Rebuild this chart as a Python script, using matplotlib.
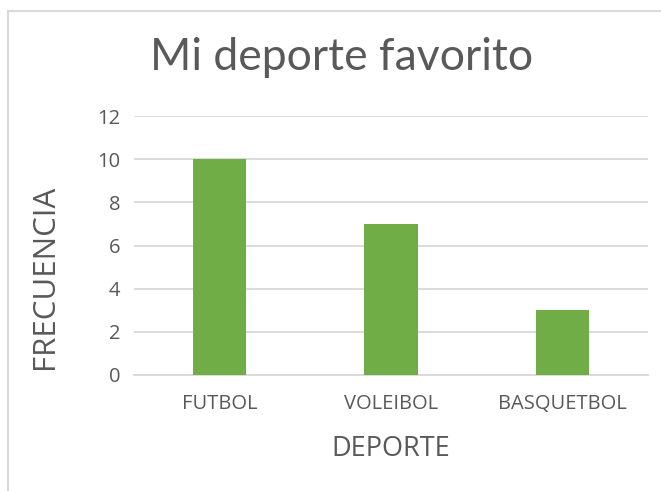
import matplotlib.pyplot as plt
from matplotlib.patches import Rectangle

deportes = ['FUTBOL', 'VOLEIBOL', 'BASQUETBOL']
frecuencia = [10, 7, 3]
y_ticks = [0, 2, 4, 6, 8, 10, 12]

W, H = 661, 491
gray = '#595959'

fig = plt.figure(figsize=(W / 100, H / 100), dpi=100)
fig.patch.set_facecolor('white')

# chart border, cut off at right and bottom like the screenshot
fig.patches.append(Rectangle((8 / W, -0.1), 1.2, 1 - 11 / H + 0.1,
                             transform=fig.transFigure, fill=False,
                             edgecolor='#D9D9D9', linewidth=1.5))

# plot area in pixels: x 134..648, y 116..375
ax = fig.add_axes([134 / W, 1 - 375 / H, (648 - 134) / W, (375 - 116) / H])
x = range(len(deportes))
ax.bar(x, frecuencia, width=0.31, color='#70AD47', zorder=3)
ax.set_xlim(-0.5, len(deportes) - 0.5)
ax.set_ylim(0, 12)
ax.set_yticks(y_ticks)
ax.set_xticks(list(x))
ax.set_xticklabels(deportes)

ax.grid(axis='y', color='#D9D9D9', linewidth=1.3, zorder=0)
for s in ['top', 'right', 'left']:
    ax.spines[s].set_visible(False)
ax.spines['bottom'].set_color('#D9D9D9')
ax.spines['bottom'].set_linewidth(1.3)
ax.tick_params(axis='both', length=0, labelsize=14.5, colors=gray)
ax.tick_params(axis='x', pad=14)
ax.tick_params(axis='y', pad=10)
for lbl in ax.get_xticklabels() + ax.get_yticklabels():
    lbl.set_family('Open Sans')

ax.set_xlabel('DEPORTE', fontsize=19.5, color=gray, family='Open Sans', labelpad=15)
ax.set_ylabel('FRECUENCIA', fontsize=22.5, color=gray, family='Open Sans')
ax.yaxis.set_label_coords(-0.144, 0.378)

fig.text(342 / W, 1 - 58 / H, 'Mi deporte favorito', ha='center', va='center',
         fontsize=32, color=gray, family='Lato')

fig.savefig('out.png', dpi=100)
